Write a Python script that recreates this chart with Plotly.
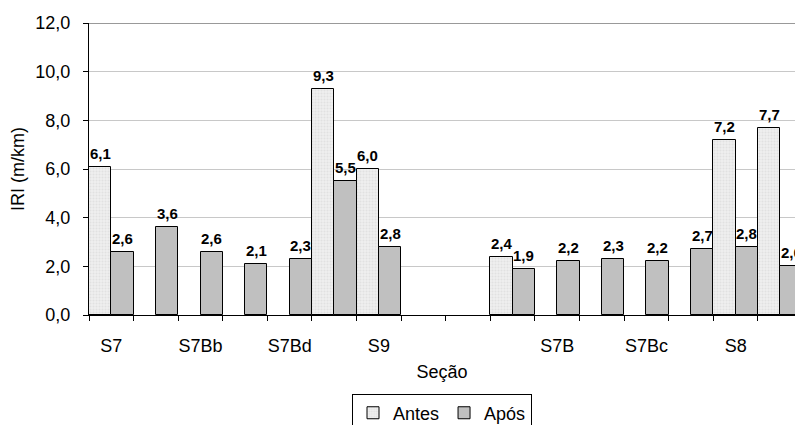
import plotly.graph_objects as go

# Data
tick_labels = ["S7", "", "S7Bb", "", "S7Bd", "", "S9", "", "", "", "S7B", "", "S7Bc", "", "S8", ""]
antes = [6.1, None, None, None, None, 9.3, 6.0, None, None, 2.4, None, None, None, None, 7.2, 7.7]
apos = [2.6, 3.6, 2.6, 2.1, 2.3, 5.5, 2.8, None, None, 1.9, 2.2, 2.3, 2.2, 2.7, 2.8, 2.0]

positions = list(range(len(tick_labels)))
FONT = "Liberation Sans, Arial, sans-serif"

fig = go.Figure()
fig.add_trace(go.Bar(
    name="Antes", x=positions, y=antes,
    marker=dict(color="#ececec", line=dict(color="#000000", width=1),
                pattern=dict(shape=".", fgcolor="#d4d4d4", bgcolor="#efefef", size=3, solidity=0.4)),
))
fig.add_trace(go.Bar(
    name="Após", x=positions, y=apos,
    marker=dict(color="#c0c0c0", line=dict(color="#000000", width=1)),
))

annotations = []
for vals, off in ((antes, -0.25), (apos, 0.25)):
    for p, v in zip(positions, vals):
        if v is None:
            continue
        annotations.append(dict(
            x=p + off, y=v, xref="x", yref="y", text=f"<b>{v:.1f}</b>".replace(".", ","),
            showarrow=False, yanchor="bottom", xanchor="center", yshift=3,
            font=dict(family=FONT, size=15, color="#000000"),
        ))

fig.update_layout(
    width=795, height=425,
    margin=dict(l=89, r=0, t=23, b=110, autoexpand=False),
    paper_bgcolor="white", plot_bgcolor="white",
    barmode="group", bargap=0, bargroupgap=0,
    separators=",.",
    font=dict(family=FONT, size=18, color="#000000"),
    annotations=annotations,
    showlegend=True,
    legend=dict(orientation="h", x=0.5, xanchor="center", xref="paper",
                yref="container", y=0.074, yanchor="top",
                bordercolor="#000000", borderwidth=1,
                font=dict(size=18), itemwidth=30, tracegroupgap=0),
    shapes=[dict(type="line", xref="paper", yref="y", x0=0, x1=1, y0=12, y1=12,
                 line=dict(color="#999999", width=2), layer="above")],
)

fig.update_xaxes(
    range=[-0.5, 15.33],
    tickmode="array", tickvals=positions, ticktext=tick_labels,
    ticks="", showgrid=False, zeroline=False,
    showline=True, linecolor="#000000", linewidth=1,
    tickfont=dict(size=18), ticklabelstandoff=14,
    minor=dict(ticks="outside", tick0=-0.5, dtick=1, ticklen=5, tickcolor="#000000", showgrid=False),
    title=dict(text="Seção", font=dict(size=18), standoff=10),
)
fig.update_yaxes(
    range=[0, 12], dtick=2, tickformat=".1f",
    ticks="outside", ticklen=5, tickcolor="#000000",
    showline=True, linecolor="#000000", linewidth=1,
    showgrid=True, gridcolor="#c8c8c8", gridwidth=1, zeroline=False,
    tickfont=dict(size=18), ticklabelstandoff=9,
    title=dict(text="IRI (m/km)", font=dict(size=18), standoff=6),
)

fig.write_html("out.html")
